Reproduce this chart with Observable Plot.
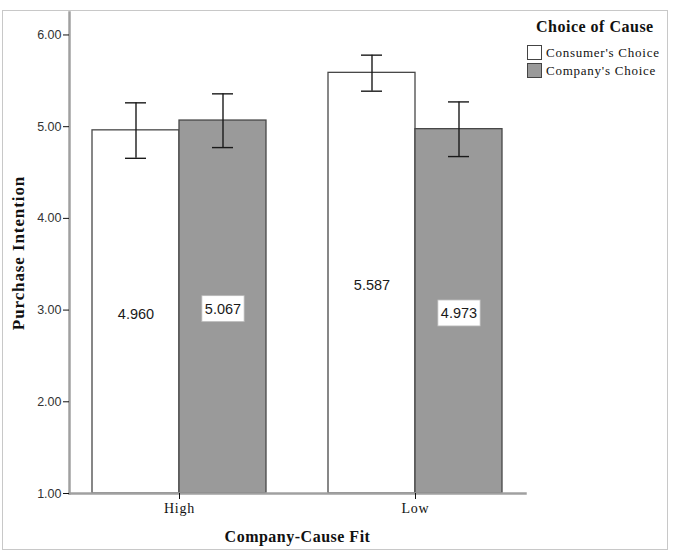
<!DOCTYPE html>
<html>
<head>
<meta charset="utf-8">
<script src="https://cdn.jsdelivr.net/npm/d3@7"></script>
<script src="https://cdn.jsdelivr.net/npm/@observablehq/plot@0.6"></script>
<style>
  body { margin: 0; background: #fff; }
  #wrap { position: relative; width: 687px; height: 550px; overflow: hidden; }
  #frame { position: absolute; left: 2px; top: 10px; width: 666px; height: 540px; border: 1px solid #c8c8c8; box-sizing: border-box; pointer-events: none; }
  #chart { position: absolute; left: 0; top: 0; }
  #legend { position: absolute; left: 527px; top: 17px; font-family: "Liberation Serif", "Times New Roman", serif; color: #111; }
  #legend .lt { position: absolute; left: 9px; top: 1px; white-space: nowrap; font-weight: bold; font-size: 16px; letter-spacing: 0.5px; }
  #legend .it { position: absolute; left: 0; height: 15px; white-space: nowrap; display: flex; align-items: center; font-size: 13px; letter-spacing: 0.75px; }
  #legend .sw { width: 13px; height: 13px; border: 1px solid #444; margin-right: 4px; }
  g[aria-label="y-axis label"] text {
    font-family: "Liberation Serif", "Times New Roman", serif; font-weight: bold; font-size: 17px; letter-spacing: 0.9px; fill: #111;
  }
  g[aria-label="fx-axis label"] text {
    font-family: "Liberation Serif", "Times New Roman", serif; font-weight: bold; font-size: 16px; letter-spacing: 0.5px; fill: #111;
  }
  g[aria-label="fx-axis tick label"] text {
    font-family: "Liberation Serif", "Times New Roman", serif; font-size: 14px; letter-spacing: 0.8px; fill: #111;
  }
</style>
</head>
<body>
<div id="wrap">
  <div id="chart"></div>
  <div id="legend"></div>
  <div id="frame"></div>
</div>
<script>
// ---- data ----
const groups = ["High", "Low"];
const seriesNames = ["Consumer's Choice", "Company's Choice"];
const consumerMeans = [4.960, 5.587];
const companyMeans = [5.067, 4.973];
const consumerLower = [4.655, 5.387];
const consumerUpper = [5.260, 5.780];
const companyLower = [4.772, 4.674];
const companyUpper = [5.358, 5.270];
const yTicks = [1, 2, 3, 4, 5, 6];
const seriesFills = ["#ffffff", "#9a9a9a"];
const legendTitle = "Choice of Cause";

const rows = [];
groups.forEach((g, i) => {
  rows.push({group: g, series: seriesNames[0], mean: consumerMeans[i], lo: consumerLower[i], hi: consumerUpper[i]});
  rows.push({group: g, series: seriesNames[1], mean: companyMeans[i], lo: companyLower[i], hi: companyUpper[i]});
});
const fmt = v => v.toFixed(3);

const errStyle = {stroke: "#1a1a1a", strokeWidth: 1.4};

const chart = Plot.plot({
  width: 687,
  height: 550,
  marginLeft: 68,
  marginRight: 161,
  marginTop: 12,
  marginBottom: 57,
  style: {background: "transparent", fontFamily: "'Liberation Sans', Arial, sans-serif", overflow: "visible"},
  fx: {domain: groups, paddingInner: 0.0675, paddingOuter: 0},
  x: {domain: seriesNames, paddingInner: 0, paddingOuter: 0.256, axis: null},
  y: {domain: [1, 6.245]},
  color: {domain: seriesNames, range: seriesFills},
  marks: [
    Plot.barY(rows, {fx: "group", x: "series", y1: 1, y2: "mean", fill: "series", stroke: "#484848", strokeWidth: 1.3}),
    Plot.ruleX(rows, {fx: "group", x: "series", y1: "lo", y2: "hi", ...errStyle}),
    Plot.tickY(rows, {fx: "group", x: "series", y: "lo", insetLeft: 33, insetRight: 33, ...errStyle}),
    Plot.tickY(rows, {fx: "group", x: "series", y: "hi", insetLeft: 33, insetRight: 33, ...errStyle}),
    Plot.text(rows, {fx: "group", x: "series", y: d => (d.mean + 1) / 2, text: d => fmt(d.mean), dy: 2, fontSize: 14.5, fill: "#1a1a1a"}),
    Plot.frame({facet: "super", anchor: "left", stroke: "#a0a0a0", strokeWidth: 2.5}),
    Plot.frame({facet: "super", anchor: "bottom", stroke: "#a0a0a0", strokeWidth: 2.5}),
    Plot.axisY({ticks: yTicks, tickFormat: d => d.toFixed(2), tickSize: 6, tickPadding: 2, fontSize: 12.5, stroke: "#111", fill: "#333",
      label: "Purchase Intention", labelAnchor: "center", labelArrow: "none", labelOffset: 58}),
    Plot.axisFx({anchor: "bottom", tickSize: 6, tickPadding: 4, stroke: "#111",
      label: "Company-Cause Fit", labelAnchor: "center", labelArrow: "none", labelOffset: 48})
  ]
});

document.getElementById("chart").appendChild(chart);

// white boxes behind the company value labels
const boxed = new Set(companyMeans.map(fmt));
chart.querySelectorAll("text").forEach(t => {
  if (!boxed.has(t.textContent.trim())) return;
  const b = t.getBBox();
  const r = document.createElementNS("http://www.w3.org/2000/svg", "rect");
  r.setAttribute("x", b.x - 3);
  r.setAttribute("y", b.y - 5);
  r.setAttribute("width", b.width + 6);
  r.setAttribute("height", b.height + 10);
  r.setAttribute("fill", "#ffffff");
  r.setAttribute("stroke", "#b8b8b8");
  r.setAttribute("stroke-width", 0.8);
  const tr = t.getAttribute("transform");
  if (tr) r.setAttribute("transform", tr);
  t.parentNode.insertBefore(r, t);
});

// legend
const legend = document.getElementById("legend");
const lt = document.createElement("div");
lt.className = "lt";
lt.textContent = legendTitle;
legend.appendChild(lt);
seriesNames.forEach((name, i) => {
  const it = document.createElement("div");
  it.className = "it";
  it.style.top = (28 + i * 18) + "px";
  const sw = document.createElement("div");
  sw.className = "sw";
  sw.style.background = seriesFills[i];
  const tx = document.createElement("span");
  tx.textContent = name;
  it.appendChild(sw);
  it.appendChild(tx);
  legend.appendChild(it);
});
</script>
</body>
</html>
